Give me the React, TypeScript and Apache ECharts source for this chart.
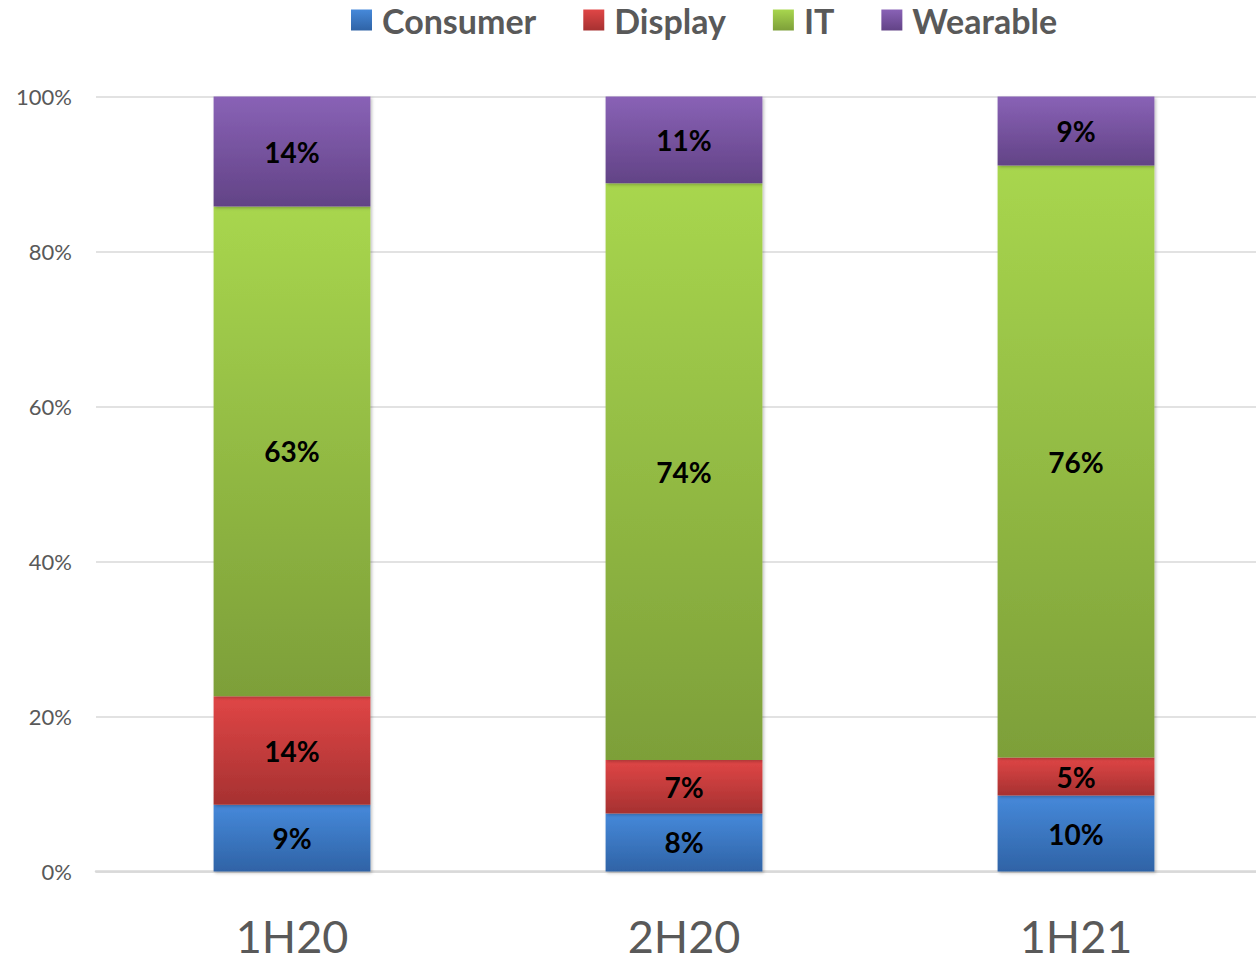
import React, { useEffect, useRef } from "react";
import * as echarts from "echarts";

const categories = ["1H20", "2H20", "1H21"];
const consumer = [8.6, 7.5, 9.8];
const display = [14.0, 6.9, 4.9];
const it = [63.2, 74.4, 76.4];
const wearable = [14.2, 11.2, 8.9];
const yTicks = [0, 20, 40, 60, 80, 100];

const grad = (top: string, bottom: string) =>
  new echarts.graphic.LinearGradient(0, 0, 0, 1, [
    { offset: 0, color: top },
    { offset: 1, color: bottom },
  ]);

export default function App() {
  const ref = useRef<HTMLDivElement>(null);
  useEffect(() => {
    if (!ref.current) return;
    const chart = echarts.init(ref.current, undefined, { renderer: "svg" });
    const mk = (name: string, data: number[], top: string, bottom: string) => ({
      name,
      type: "bar",
      stack: "total",
      barWidth: "40%",
      data,
      itemStyle: {
        color: grad(top, bottom),
        shadowColor: "rgba(0,0,0,0.25)",
        shadowBlur: 3,
        shadowOffsetX: 1.5,
        shadowOffsetY: 1.5,
      },
      label: {
        show: true,
        position: "inside",
        formatter: (p: any) => Math.round(p.value) + "%",
        color: "#000",
        fontWeight: "bold",
        fontSize: 28,
        fontFamily: "Lato, 'Open Sans', sans-serif",
      },
      emphasis: { disabled: true },
    });
    chart.setOption({
      animation: false,
      color: ["#3F7CCB", "#D13E3E", "#92BF45", "#7554A0"],
      legend: {
        left: 346,
        top: -2,
        itemWidth: 21,
        itemHeight: 21,
        itemGap: 47,
        icon: "rect",
        textStyle: {
          fontSize: 34,
          fontWeight: "bold",
          color: "#595959",
          fontFamily: "Lato, 'Open Sans', sans-serif",
          padding: [0, 0, 0, 5],
        },
        data: ["Consumer", "Display", "IT", "Wearable"],
      },
      grid: { left: 96, right: 16, top: 96.5, bottom: 91.5 },
      xAxis: {
        type: "category",
        data: categories,
        axisTick: { show: false },
        axisLine: { lineStyle: { color: "#D9D9D9", width: 2.5 } },
        axisLabel: {
          color: "#595959",
          fontSize: 45,
          lineHeight: 40,
          margin: 44,
          fontFamily: "Lato, sans-serif",
        },
      },
      yAxis: {
        type: "value",
        min: yTicks[0],
        max: yTicks[yTicks.length - 1],
        interval: 20,
        axisLabel: {
          formatter: "{value}%",
          color: "#595959",
          fontSize: 22,
          margin: 24,
          fontFamily: "Lato, 'Open Sans', sans-serif",
        },
        axisLine: { show: false },
        axisTick: { show: false },
        splitLine: { lineStyle: { color: "#D9D9D9", width: 1.5 } },
      },
      series: [
        mk("Consumer", consumer, "#4689DA", "#2F63A6"),
        mk("Display", display, "#E04646", "#A63131"),
        mk("IT", it, "#A8D64E", "#7D9F39"),
        mk("Wearable", wearable, "#8962B6", "#624386"),
      ],
    });
    return () => chart.dispose();
  }, []);
  return (
    <div style={{ position: "fixed", left: 0, top: 0, width: 1256, height: 963, overflow: "hidden", background: "#fff" }}>
      <div ref={ref} style={{ position: "absolute", left: 0, top: 0, width: 1288, height: 963 }} />
    </div>
  );
}
